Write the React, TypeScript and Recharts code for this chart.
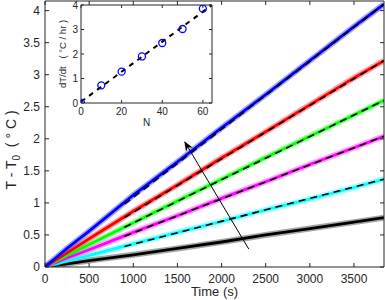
import { ComposedChart, LineChart, Line, Scatter, XAxis, YAxis, ReferenceLine, CartesianGrid } from 'recharts';

// main plot: temperature rise vs time, one trace per N
const times = [0, 250, 500, 1000, 1500, 2000, 2500, 3000, 3500, 3840];
const blueRise = [0, 0.29, 0.56, 1.12, 1.64, 2.17, 2.69, 3.22, 3.75, 4.1];
const redRise = [0, 0.22, 0.44, 0.87, 1.28, 1.7, 2.11, 2.53, 2.95, 3.22];
const greenRise = [0, 0.18, 0.35, 0.69, 1.03, 1.37, 1.71, 2.04, 2.37, 2.6];
const magentaRise = [0, 0.14, 0.27, 0.54, 0.8, 1.07, 1.33, 1.6, 1.86, 2.04];
const cyanRise = [0, 0.09, 0.18, 0.36, 0.54, 0.71, 0.89, 1.06, 1.24, 1.37];
const blackRise = [0, 0.05, 0.1, 0.19, 0.29, 0.39, 0.5, 0.6, 0.7, 0.77];

// linear fits drawn over the traces
const fitTimes = [900, 3840];
const blueFit = [0.98, 4.1];
const redFit = [0.77, 3.22];
const greenFit = [0.62, 2.6];
const magentaFit = [0.48, 2.04];
const cyanFit = [0.32, 1.37];

const xTicks = [0, 500, 1000, 1500, 2000, 2500, 3000, 3500];
const yTicks = [0, 0.5, 1, 1.5, 2, 2.5, 3, 3.5, 4];

// inset: heating rate vs N
const insetN = [0, 10, 20, 30, 40, 50, 60];
const insetRate = [0, 0.72, 1.28, 1.9, 2.45, 3.02, 3.85];
const insetFitN = [0, 64.5];
const insetFitRate = [0.05, 4.0];
const insetXTicks = [0, 20, 40, 60];
const insetYTicks = [0, 1, 2, 3, 4];

const rows = times.map((t, i) => ({
    t,
    blue: blueRise[i],
    red: redRise[i],
    green: greenRise[i],
    magenta: magentaRise[i],
    cyan: cyanRise[i],
    black: blackRise[i],
}));

const fitRows = (vals: number[]) => fitTimes.map((t, i) => ({ t, v: vals[i] }));

const traces = [
    { key: 'black', color: '#000000' },
    { key: 'cyan', color: '#00ffff' },
    { key: 'magenta', color: '#ff00ff' },
    { key: 'green', color: '#00ff00' },
    { key: 'red', color: '#ff0000' },
    { key: 'blue', color: '#0000ff' },
];

const fits = [blueFit, redFit, greenFit, magentaFit, cyanFit];

const insetPoints = insetN.map((n, i) => ({ n, r: insetRate[i] }));
const insetFit = insetFitN.map((n, i) => ({ n, f: insetFitRate[i] }));

const axisColor = '#262626';
const font = '"Liberation Sans", Arial, sans-serif';

const MainYLabel = () => (
    <text
        transform="rotate(-90)"
        x={-150}
        y={16}
        textAnchor="middle"
        fontSize={14}
        fill={axisColor}
        style={{ whiteSpace: 'pre' }}
    >
        T - T<tspan fontSize={10} dy={4}>0</tspan>
        <tspan dy={-4}>{'  ( ° C )'}</tspan>
    </text>
);

const InsetYLabel = () => (
    <text
        transform="rotate(-90)"
        x={-54}
        y={66}
        textAnchor="middle"
        fontSize={9.5}
        fill={axisColor}
        style={{ whiteSpace: 'pre' }}
    >
        {'dT/dt   ( °C / hr )'}
    </text>
);

export default function App() {
    return (
        <div style={{ position: 'absolute', left: 0, top: 0, width: 385, height: 300, background: '#fff', fontFamily: font }}>
            <LineChart width={385} height={300} data={rows} margin={{ top: 0, right: 0, bottom: 0, left: 0 }}>
                <defs>
                    <marker id="arrowHead" markerUnits="userSpaceOnUse" markerWidth={10} markerHeight={8} refX={9} refY={4} orient="auto">
                        <path d="M0,0 L10,4 L0,8 L3,4 z" fill="#000" />
                    </marker>
                </defs>
                <XAxis
                    type="number"
                    dataKey="t"
                    domain={[0, 3840]}
                    allowDataOverflow
                    ticks={xTicks}
                    height={33}
                    tickSize={-4}
                    tickMargin={11}
                    stroke={axisColor}
                    tick={{ fill: axisColor, fontSize: 12 }}
                    label={{ value: 'Time (s)', position: 'insideBottom', offset: 4, fill: axisColor, fontSize: 13 }}
                />
                <XAxis
                    xAxisId="top"
                    orientation="top"
                    type="number"
                    dataKey="t"
                    domain={[0, 3840]}
                    allowDataOverflow
                    ticks={xTicks}
                    height={1}
                    tickSize={-4}
                    stroke={axisColor}
                    tickFormatter={() => ''}
                />
                <YAxis
                    type="number"
                    domain={[0, 4.15]}
                    allowDataOverflow
                    ticks={yTicks}
                    width={45}
                    tickSize={-4}
                    tickMargin={9}
                    stroke={axisColor}
                    tick={{ fill: axisColor, fontSize: 12 }}
                    label={<MainYLabel />}
                />
                <YAxis
                    yAxisId="right"
                    orientation="right"
                    type="number"
                    domain={[0, 4.15]}
                    allowDataOverflow
                    ticks={yTicks}
                    width={1}
                    tickSize={-4}
                    stroke={axisColor}
                    tickFormatter={() => ''}
                />
                {traces.map((s) => (
                    <Line
                        key={s.key + '-halo'}
                        dataKey={s.key}
                        stroke={s.color}
                        strokeOpacity={0.35}
                        strokeWidth={6}
                        dot={false}
                        activeDot={false}
                        isAnimationActive={false}
                    />
                ))}
                {traces.map((s) => (
                    <Line
                        key={s.key}
                        dataKey={s.key}
                        stroke={s.color}
                        strokeWidth={2.8}
                        dot={false}
                        activeDot={false}
                        isAnimationActive={false}
                    />
                ))}
                {fits.map((f, i) => (
                    <Line
                        key={'fit' + i}
                        data={fitRows(f)}
                        dataKey="v"
                        stroke="#000"
                        strokeWidth={1.6}
                        strokeDasharray="7 5"
                        dot={false}
                        activeDot={false}
                        isAnimationActive={false}
                    />
                ))}
                <ReferenceLine
                    segment={[{ x: 2308, y: 0.28 }, { x: 1584, y: 1.95 }]}
                    stroke="#000"
                    strokeWidth={1}
                    markerEnd="url(#arrowHead)"
                />
            </LineChart>

            <div style={{ position: 'absolute', left: 0, top: 0 }}>
                <ComposedChart width={216} height={130} data={insetPoints} margin={{ top: 4, right: 3, bottom: 0, left: 0 }}>
                    <CartesianGrid fill="#fff" stroke="none" horizontal={false} vertical={false} />
                    <XAxis
                        type="number"
                        dataKey="n"
                        domain={[0, 64.5]}
                        allowDataOverflow
                        ticks={insetXTicks}
                        height={27}
                        tickSize={-3}
                        tickMargin={8}
                        stroke={axisColor}
                        tick={{ fill: axisColor, fontSize: 10 }}
                        label={{ value: 'N', position: 'insideBottom', offset: 4, fill: axisColor, fontSize: 10 }}
                    />
                    <XAxis
                        xAxisId="top"
                        orientation="top"
                        type="number"
                        dataKey="n"
                        domain={[0, 64.5]}
                        allowDataOverflow
                        ticks={insetXTicks}
                        height={1}
                        tickSize={-3}
                        stroke={axisColor}
                        tickFormatter={() => ''}
                    />
                    <YAxis
                        type="number"
                        dataKey="r"
                        domain={[0, 4]}
                        allowDataOverflow
                        ticks={insetYTicks}
                        width={81}
                        tickSize={-3}
                        tickMargin={6}
                        stroke={axisColor}
                        tick={{ fill: axisColor, fontSize: 10 }}
                        label={<InsetYLabel />}
                    />
                    <YAxis
                        yAxisId="right"
                        orientation="right"
                        type="number"
                        dataKey="r"
                        domain={[0, 4]}
                        allowDataOverflow
                        ticks={insetYTicks}
                        width={1}
                        tickSize={-3}
                        stroke={axisColor}
                        tickFormatter={() => ''}
                    />
                    <Line
                        data={insetFit}
                        dataKey="f"
                        stroke="#000"
                        strokeWidth={2}
                        strokeDasharray="5 5"
                        dot={false}
                        activeDot={false}
                        isAnimationActive={false}
                    />
                    <Scatter
                        dataKey="r"
                        fill="none"
                        stroke="#0000ff"
                        strokeWidth={1.3}
                        shape={(p: any) => <circle cx={p.cx} cy={p.cy} r={3.5} fill="none" stroke="#0000ff" strokeWidth={1.3} />}
                        isAnimationActive={false}
                    />
                </ComposedChart>
            </div>
        </div>
    );
}
